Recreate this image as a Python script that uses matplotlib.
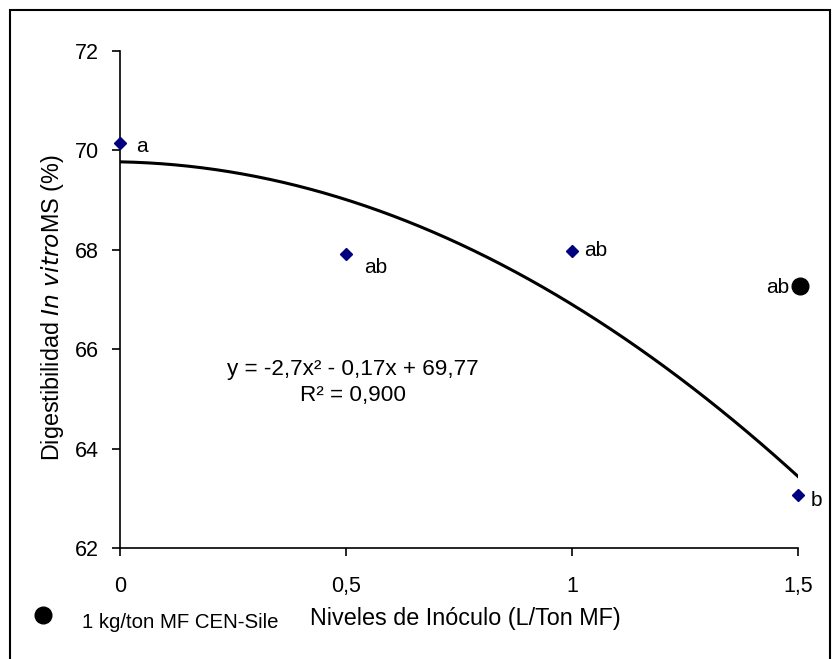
import numpy as np
import matplotlib.pyplot as plt
from matplotlib.patches import Rectangle
from matplotlib.lines import Line2D

plt.rcParams['font.family'] = ['Liberation Sans', 'DejaVu Sans']

# data
niveles = [0, 0.5, 1.0, 1.5]
digest = [70.15, 67.92, 67.98, 63.07]
letras = ['a', 'ab', 'ab', 'b']
cen_x = [1.505]
cen_y = [67.28]
cen_letra = 'ab'
coef = [-2.7, -0.17, 69.77]   # fitted quadratic trend
xticks = [0, 0.5, 1, 1.5]
xticklabels = ['0', '0,5', '1', '1,5']
yticks = [62, 64, 66, 68, 70, 72]

fig = plt.figure(figsize=(8.33, 6.59), dpi=100)
ax = fig.add_axes([0.1441, 0.1684, 0.8139, 0.7542])

xs = np.linspace(0, 1.5, 200)
ax.plot(xs, np.polyval(coef, xs), color='black', lw=2.2, zorder=2)
ax.plot(niveles, digest, 'D', color='#000080', ms=6.5, ls='none', zorder=3, clip_on=False)
ax.plot(cen_x, cen_y, 'o', color='black', ms=12, ls='none', zorder=3, clip_on=False)

offs = [(22, -4), (30, -14), (24, 0), (18, -6)]
for x, y, t, o in zip(niveles, digest, letras, offs):
    ax.annotate(t, (x, y), xytext=o, textcoords='offset pixels',
                ha='center', va='center', fontsize=15, annotation_clip=False)
ax.annotate(cen_letra, (cen_x[0], cen_y[0]), xytext=(-23, -2), textcoords='offset pixels',
            ha='center', va='center', fontsize=15, annotation_clip=False)

ax.text(0.343, 0.333, 'y = -2,7x² - 0,17x + 69,77\nR² = 0,900', transform=ax.transAxes,
        ha='center', va='center', fontsize=16.2, linespacing=1.28)

ax.set_xlim(0, 1.5)
ax.set_ylim(62, 72)
ax.set_xticks(xticks)
ax.set_xticklabels(xticklabels)
ax.set_yticks(yticks)
ax.spines['top'].set_visible(False)
ax.spines['right'].set_visible(False)
for s in ['left', 'bottom']:
    ax.spines[s].set_linewidth(1.2)
ax.tick_params(direction='out', length=6, width=1.2, labelsize=15.5)
ax.tick_params(axis='y', pad=9)
ax.tick_params(axis='x', pad=14)

ax.set_xlabel('Niveles de Inóculo (L/Ton MF)', fontsize=16.8)
ax.set_ylabel('Digestibilidad $\\mathit{In\\ vitro}$MS (%)', fontsize=16.8)
ax.xaxis.set_label_coords(0.510, -0.1177)
ax.yaxis.set_label_coords(-0.0804, 0.484)

# legend-like note at the bottom left
fig.add_artist(Line2D([43 / 833], [1 - 615 / 659], marker='o', ms=12, color='black',
                      ls='none', transform=fig.transFigure))
fig.text(82 / 833, 1 - 623 / 659, '1 kg/ton MF CEN-Sile', fontsize=14.7, ha='left', va='center')

# outer frame
fig.add_artist(Rectangle((10 / 833, -0.05), 820 / 833, 0.05 + 649 / 659, transform=fig.transFigure,
                         fill=False, ec='black', lw=1.5))

fig.savefig('out.png', dpi=100)
